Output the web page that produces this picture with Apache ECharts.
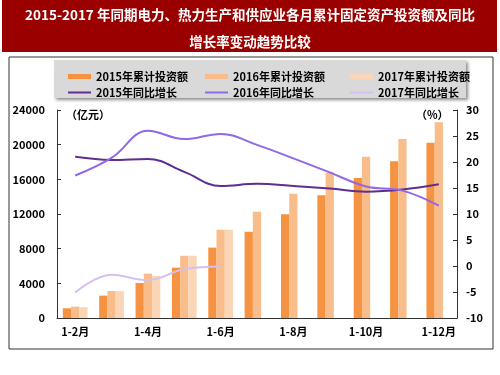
<!DOCTYPE html>
<html>
<head>
<meta charset="utf-8">
<script src="https://cdn.jsdelivr.net/npm/echarts@6/dist/echarts.min.js"></script>
<style>
  html, body { margin: 0; padding: 0; background: #fff; }
  #chart { width: 500px; height: 375px; }
</style>
</head>
<body>
<div id="chart"></div>
<script>
// 月份类别
const categories = ['1-2月', '1-3月', '1-4月', '1-5月', '1-6月', '1-7月', '1-8月', '1-9月', '1-10月', '1-11月', '1-12月'];
// 累计投资额（亿元）
const inv2015 = [1120, 2580, 4040, 5810, 8120, 9960, 11960, 14150, 16160, 18080, 20230];
const inv2016 = [1310, 3110, 5120, 7180, 10190, 12270, 14350, 16770, 18620, 20650, 22580];
const inv2017 = [1250, 3100, 4850, 7180, 10190, null, null, null, null, null, null];
// 同比增长（%）
const growth2015 = [21.0, 20.4, 20.6, 18.1, 15.4, 15.8, 15.4, 14.9, 14.3, 14.7, 15.7];
const growth2016 = [17.4, 20.8, 26.0, 24.4, 25.4, 23.3, 20.7, 18.0, 15.3, 14.5, 11.6];
const growth2017 = [-5.1, -1.7, -2.7, -0.6, -0.1, null, null, null, null, null, null];
// 坐标轴刻度
const leftTicks = [0, 4000, 8000, 12000, 16000, 20000, 24000];
const rightTicks = [-10, -5, 0, 5, 10, 15, 20, 25, 30];

const barNames = ['2015年累计投资额', '2016年累计投资额', '2017年累计投资额'];
const lineNames = ['2015年同比增长', '2016年同比增长', '2017年同比增长'];
const barColors = ['#f59342', '#f8bd8a', '#fbd6b6'];
const lineColors = ['#5e2e91', '#9168e6', '#d6bff2'];

const font = '"Noto Sans CJK SC", "DejaVu Sans", sans-serif';
const chart = echarts.init(document.getElementById('chart'));

// 图例：每项单独定位，排成两行三列
const colX = [63, 200, 345];
const legends = [];
barNames.forEach((n, i) => legends.push({
  data: [n], left: colX[i], top: 66, icon: 'rect', itemWidth: 23, itemHeight: 5,
  textStyle: { fontFamily: font, fontSize: 11, fontWeight: 'bold', color: '#000' }
}));
lineNames.forEach((n, i) => legends.push({
  data: [n], left: colX[i], top: 82, icon: 'rect', itemWidth: 23, itemHeight: 2,
  textStyle: { fontFamily: font, fontSize: 11, fontWeight: 'bold', color: '#000' }
}));

const series = [];
[inv2015, inv2016, inv2017].forEach((d, i) => series.push({
  name: barNames[i], type: 'bar', yAxisIndex: 0, data: d,
  barGap: 0, barCategoryGap: '32%',
  itemStyle: { color: barColors[i] }
}));
[growth2015, growth2016, growth2017].forEach((d, i) => series.push({
  name: lineNames[i], type: 'line', yAxisIndex: 1, data: d,
  smooth: 0.4, showSymbol: false, symbol: 'none',
  lineStyle: { color: lineColors[i], width: 2 },
  itemStyle: { color: lineColors[i] }
}));

const axisLabelStyle = { fontFamily: font, fontSize: 11, fontWeight: 'bold', color: '#000' };

chart.setOption({
  animation: false,
  backgroundColor: '#fff',
  title: {
    text: '2015-2017 年同期电力、热力生产和供应业各月累计固定资产投资额及同比\n增长率变动趋势比较',
    left: 'center', top: 1, padding: 0,
    textStyle: { fontFamily: font, fontSize: 13.5, fontWeight: 'bold', color: '#fff', lineHeight: 27 }
  },
  graphic: [
    { type: 'rect', z: -10, shape: { x: 2, y: 0, width: 495, height: 52 }, style: { fill: '#9a0000' } },
    { type: 'rect', z: -10, shape: { x: 9, y: 57, width: 484, height: 292 },
      style: { fill: 'none', stroke: '#333', lineWidth: 1 } },
    { type: 'rect', z: -5, shape: { x: 54, y: 60, width: 412, height: 38 },
      style: { fill: '#d9d9d9', shadowBlur: 3, shadowOffsetX: 2, shadowOffsetY: 2, shadowColor: 'rgba(0,0,0,0.45)' } },
    { type: 'text', left: 66, top: 109, style: { text: '（亿元）', font: 'bold 11px ' + font, fill: '#000' } },
    { type: 'text', left: 416, top: 109, style: { text: '（%）', font: 'bold 11px ' + font, fill: '#000' } }
  ],
  legend: legends,
  grid: { left: 57, right: 43, top: 110, bottom: 57 },
  xAxis: {
    type: 'category', data: categories,
    axisLine: { lineStyle: { color: '#333', width: 1 } },
    axisTick: { inside: true, length: 4, lineStyle: { color: '#333' } },
    axisLabel: Object.assign({ interval: 1, margin: 8 }, axisLabelStyle)
  },
  yAxis: [
    {
      type: 'value', min: leftTicks[0], max: leftTicks[leftTicks.length - 1], interval: leftTicks[1] - leftTicks[0],
      position: 'left',
      axisLine: { show: true, lineStyle: { color: '#333' } },
      axisTick: { show: true, inside: true, length: 4, lineStyle: { color: '#333' } },
      axisLabel: Object.assign({ margin: 12, formatter: v => String(v) }, axisLabelStyle),
      splitLine: { show: false }
    },
    {
      type: 'value', min: rightTicks[0], max: rightTicks[rightTicks.length - 1], interval: rightTicks[1] - rightTicks[0],
      position: 'right',
      axisLine: { show: true, lineStyle: { color: '#333' } },
      axisTick: { show: true, inside: true, length: 4, lineStyle: { color: '#333' } },
      axisLabel: Object.assign({ margin: 9 }, axisLabelStyle),
      splitLine: { show: false }
    }
  ],
  series: series
});
</script>
</body>
</html>
